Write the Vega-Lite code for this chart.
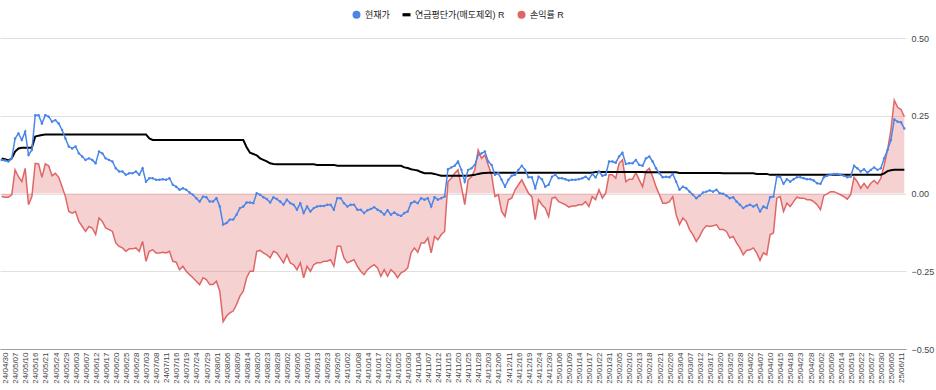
{
"$schema": "https://vega.github.io/schema/vega-lite/v6.json",
"width": 906, "height": 311,
"autosize": {"type": "none"},
"padding": {"left": 0, "top": 38, "right": 30, "bottom": 41},
"background": "white",
"config": {"view": {"stroke": null}, "font": "Liberation Sans, Noto Sans CJK KR, sans-serif"},
"data": {"values": [
{"d":"24/04/30","p":0.108,"a":0.113,"r":-0.010},
{"d":"24/05/02","p":0.106,"a":0.110,"r":-0.012},
{"d":"24/05/03","p":0.103,"a":0.106,"r":-0.012},
{"d":"24/05/07","p":0.113,"a":0.113,"r":-0.004},
{"d":"24/05/08","p":0.177,"a":0.135,"r":0.076},
{"d":"24/05/09","p":0.193,"a":0.145,"r":0.054},
{"d":"24/05/10","p":0.172,"a":0.147,"r":0.038},
{"d":"24/05/13","p":0.199,"a":0.147,"r":0.081},
{"d":"24/05/14","p":0.124,"a":0.147,"r":-0.036},
{"d":"24/05/16","p":0.140,"a":0.147,"r":-0.010},
{"d":"24/05/17","p":0.252,"a":0.183,"r":0.097},
{"d":"24/05/20","p":0.252,"a":0.186,"r":0.095},
{"d":"24/05/21","p":0.225,"a":0.188,"r":0.052},
{"d":"24/05/22","p":0.252,"a":0.190,"r":0.095},
{"d":"24/05/23","p":0.247,"a":0.190,"r":0.089},
{"d":"24/05/24","p":0.231,"a":0.190,"r":0.057},
{"d":"24/05/27","p":0.236,"a":0.190,"r":0.065},
{"d":"24/05/28","p":0.225,"a":0.190,"r":0.052},
{"d":"24/05/29","p":0.204,"a":0.190,"r":0.022},
{"d":"24/05/30","p":0.177,"a":0.190,"r":-0.010},
{"d":"24/05/31","p":0.151,"a":0.190,"r":-0.058},
{"d":"24/06/03","p":0.145,"a":0.190,"r":-0.063},
{"d":"24/06/04","p":0.151,"a":0.190,"r":-0.058},
{"d":"24/06/05","p":0.129,"a":0.190,"r":-0.090},
{"d":"24/06/07","p":0.119,"a":0.190,"r":-0.106},
{"d":"24/06/10","p":0.108,"a":0.190,"r":-0.122},
{"d":"24/06/11","p":0.113,"a":0.190,"r":-0.106},
{"d":"24/06/12","p":0.108,"a":0.190,"r":-0.111},
{"d":"24/06/13","p":0.097,"a":0.190,"r":-0.132},
{"d":"24/06/14","p":0.135,"a":0.190,"r":-0.079},
{"d":"24/06/17","p":0.129,"a":0.190,"r":-0.090},
{"d":"24/06/18","p":0.113,"a":0.190,"r":-0.111},
{"d":"24/06/19","p":0.108,"a":0.190,"r":-0.116},
{"d":"24/06/20","p":0.103,"a":0.190,"r":-0.122},
{"d":"24/06/21","p":0.081,"a":0.190,"r":-0.159},
{"d":"24/06/24","p":0.071,"a":0.190,"r":-0.170},
{"d":"24/06/25","p":0.071,"a":0.190,"r":-0.175},
{"d":"24/06/26","p":0.060,"a":0.190,"r":-0.186},
{"d":"24/06/27","p":0.065,"a":0.190,"r":-0.178},
{"d":"24/06/28","p":0.065,"a":0.190,"r":-0.178},
{"d":"24/07/01","p":0.071,"a":0.190,"r":-0.175},
{"d":"24/07/02","p":0.060,"a":0.190,"r":-0.186},
{"d":"24/07/03","p":0.081,"a":0.190,"r":-0.154},
{"d":"24/07/04","p":0.038,"a":0.190,"r":-0.218},
{"d":"24/07/05","p":0.049,"a":0.177,"r":-0.186},
{"d":"24/07/08","p":0.049,"a":0.172,"r":-0.181},
{"d":"24/07/09","p":0.044,"a":0.172,"r":-0.191},
{"d":"24/07/10","p":0.044,"a":0.172,"r":-0.191},
{"d":"24/07/11","p":0.046,"a":0.172,"r":-0.189},
{"d":"24/07/12","p":0.044,"a":0.172,"r":-0.191},
{"d":"24/07/15","p":0.049,"a":0.172,"r":-0.186},
{"d":"24/07/16","p":0.028,"a":0.172,"r":-0.218},
{"d":"24/07/17","p":0.022,"a":0.172,"r":-0.221},
{"d":"24/07/18","p":0.012,"a":0.172,"r":-0.245},
{"d":"24/07/19","p":0.017,"a":0.172,"r":-0.234},
{"d":"24/07/22","p":0.012,"a":0.172,"r":-0.250},
{"d":"24/07/23","p":0.003,"a":0.172,"r":-0.261},
{"d":"24/07/24","p":-0.004,"a":0.172,"r":-0.271},
{"d":"24/07/25","p":-0.015,"a":0.172,"r":-0.282},
{"d":"24/07/26","p":-0.026,"a":0.172,"r":-0.293},
{"d":"24/07/29","p":-0.010,"a":0.172,"r":-0.271},
{"d":"24/07/30","p":-0.012,"a":0.172,"r":-0.277},
{"d":"24/07/31","p":-0.026,"a":0.172,"r":-0.293},
{"d":"24/08/01","p":-0.026,"a":0.172,"r":-0.293},
{"d":"24/08/02","p":-0.015,"a":0.172,"r":-0.282},
{"d":"24/08/05","p":-0.042,"a":0.172,"r":-0.314},
{"d":"24/08/06","p":-0.100,"a":0.172,"r":-0.412},
{"d":"24/08/07","p":-0.095,"a":0.172,"r":-0.394},
{"d":"24/08/08","p":-0.084,"a":0.172,"r":-0.384},
{"d":"24/08/09","p":-0.084,"a":0.172,"r":-0.378},
{"d":"24/08/12","p":-0.068,"a":0.172,"r":-0.357},
{"d":"24/08/13","p":-0.047,"a":0.172,"r":-0.330},
{"d":"24/08/14","p":-0.042,"a":0.172,"r":-0.314},
{"d":"24/08/16","p":-0.029,"a":0.149,"r":-0.271},
{"d":"24/08/19","p":-0.029,"a":0.131,"r":-0.250},
{"d":"24/08/20","p":-0.031,"a":0.127,"r":-0.250},
{"d":"24/08/21","p":0.001,"a":0.123,"r":-0.186},
{"d":"24/08/22","p":-0.004,"a":0.113,"r":-0.183},
{"d":"24/08/23","p":-0.012,"a":0.108,"r":-0.191},
{"d":"24/08/26","p":-0.018,"a":0.103,"r":-0.197},
{"d":"24/08/27","p":-0.029,"a":0.097,"r":-0.207},
{"d":"24/08/28","p":-0.012,"a":0.095,"r":-0.186},
{"d":"24/08/29","p":-0.018,"a":0.094,"r":-0.191},
{"d":"24/08/30","p":-0.026,"a":0.094,"r":-0.207},
{"d":"24/09/02","p":-0.036,"a":0.094,"r":-0.223},
{"d":"24/09/03","p":-0.020,"a":0.094,"r":-0.197},
{"d":"24/09/04","p":-0.031,"a":0.094,"r":-0.223},
{"d":"24/09/05","p":-0.036,"a":0.094,"r":-0.229},
{"d":"24/09/06","p":-0.052,"a":0.094,"r":-0.245},
{"d":"24/09/09","p":-0.031,"a":0.094,"r":-0.223},
{"d":"24/09/10","p":-0.063,"a":0.094,"r":-0.271},
{"d":"24/09/11","p":-0.042,"a":0.094,"r":-0.234},
{"d":"24/09/12","p":-0.058,"a":0.094,"r":-0.250},
{"d":"24/09/13","p":-0.047,"a":0.094,"r":-0.229},
{"d":"24/09/19","p":-0.042,"a":0.092,"r":-0.223},
{"d":"24/09/20","p":-0.040,"a":0.092,"r":-0.223},
{"d":"24/09/23","p":-0.040,"a":0.092,"r":-0.218},
{"d":"24/09/24","p":-0.036,"a":0.092,"r":-0.218},
{"d":"24/09/25","p":-0.036,"a":0.092,"r":-0.213},
{"d":"24/09/26","p":-0.052,"a":0.092,"r":-0.234},
{"d":"24/09/27","p":-0.015,"a":0.089,"r":-0.170},
{"d":"24/09/30","p":-0.015,"a":0.089,"r":-0.170},
{"d":"24/10/02","p":-0.031,"a":0.089,"r":-0.207},
{"d":"24/10/04","p":-0.042,"a":0.089,"r":-0.223},
{"d":"24/10/07","p":-0.036,"a":0.089,"r":-0.218},
{"d":"24/10/08","p":-0.036,"a":0.089,"r":-0.213},
{"d":"24/10/10","p":-0.052,"a":0.089,"r":-0.234},
{"d":"24/10/11","p":-0.052,"a":0.089,"r":-0.250},
{"d":"24/10/14","p":-0.063,"a":0.089,"r":-0.261},
{"d":"24/10/15","p":-0.054,"a":0.089,"r":-0.245},
{"d":"24/10/16","p":-0.050,"a":0.089,"r":-0.236},
{"d":"24/10/17","p":-0.044,"a":0.089,"r":-0.229},
{"d":"24/10/18","p":-0.052,"a":0.089,"r":-0.239},
{"d":"24/10/21","p":-0.058,"a":0.089,"r":-0.266},
{"d":"24/10/22","p":-0.068,"a":0.089,"r":-0.245},
{"d":"24/10/23","p":-0.054,"a":0.089,"r":-0.266},
{"d":"24/10/24","p":-0.068,"a":0.089,"r":-0.245},
{"d":"24/10/25","p":-0.061,"a":0.089,"r":-0.255},
{"d":"24/10/28","p":-0.068,"a":0.089,"r":-0.271},
{"d":"24/10/29","p":-0.072,"a":0.089,"r":-0.255},
{"d":"24/10/30","p":-0.063,"a":0.084,"r":-0.250},
{"d":"24/10/31","p":-0.058,"a":0.082,"r":-0.239},
{"d":"24/11/01","p":-0.031,"a":0.078,"r":-0.191},
{"d":"24/11/04","p":-0.026,"a":0.076,"r":-0.175},
{"d":"24/11/05","p":-0.031,"a":0.074,"r":-0.189},
{"d":"24/11/06","p":-0.015,"a":0.069,"r":-0.159},
{"d":"24/11/07","p":-0.020,"a":0.065,"r":-0.159},
{"d":"24/11/08","p":-0.015,"a":0.065,"r":-0.143},
{"d":"24/11/11","p":-0.042,"a":0.065,"r":-0.191},
{"d":"24/11/12","p":-0.012,"a":0.063,"r":-0.138},
{"d":"24/11/13","p":-0.020,"a":0.060,"r":-0.149},
{"d":"24/11/14","p":-0.015,"a":0.057,"r":-0.132},
{"d":"24/11/15","p":-0.010,"a":0.057,"r":-0.122},
{"d":"24/11/18","p":0.078,"a":0.057,"r":0.038},
{"d":"24/11/19","p":0.084,"a":0.057,"r":0.049},
{"d":"24/11/20","p":0.089,"a":0.057,"r":0.065},
{"d":"24/11/21","p":0.103,"a":0.057,"r":0.076},
{"d":"24/11/22","p":0.076,"a":0.057,"r":0.022},
{"d":"24/11/25","p":0.038,"a":0.057,"r":-0.036},
{"d":"24/11/26","p":0.076,"a":0.057,"r":0.044},
{"d":"24/11/27","p":0.081,"a":0.059,"r":0.054},
{"d":"24/11/28","p":0.092,"a":0.060,"r":0.076},
{"d":"24/11/29","p":0.124,"a":0.063,"r":0.140},
{"d":"24/12/02","p":0.129,"a":0.065,"r":0.113},
{"d":"24/12/03","p":0.135,"a":0.066,"r":0.124},
{"d":"24/12/04","p":0.103,"a":0.067,"r":0.092},
{"d":"24/12/05","p":0.092,"a":0.067,"r":0.060},
{"d":"24/12/06","p":0.060,"a":0.067,"r":-0.010},
{"d":"24/12/09","p":0.065,"a":0.067,"r":-0.004},
{"d":"24/12/10","p":0.044,"a":0.067,"r":-0.058},
{"d":"24/12/11","p":0.022,"a":0.067,"r":-0.074},
{"d":"24/12/12","p":0.044,"a":0.067,"r":-0.020},
{"d":"24/12/13","p":0.057,"a":0.067,"r":-0.015},
{"d":"24/12/16","p":0.060,"a":0.067,"r":0.012},
{"d":"24/12/17","p":0.076,"a":0.067,"r":0.028},
{"d":"24/12/18","p":0.089,"a":0.067,"r":0.044},
{"d":"24/12/19","p":0.076,"a":0.067,"r":0.022},
{"d":"24/12/20","p":0.052,"a":0.067,"r":0.001},
{"d":"24/12/23","p":0.052,"a":0.067,"r":-0.010},
{"d":"24/12/24","p":0.017,"a":0.067,"r":-0.084},
{"d":"24/12/26","p":0.054,"a":0.067,"r":-0.020},
{"d":"24/12/27","p":0.046,"a":0.067,"r":-0.036},
{"d":"24/12/30","p":0.022,"a":0.067,"r":-0.047},
{"d":"25/01/02","p":0.028,"a":0.067,"r":-0.074},
{"d":"25/01/03","p":0.054,"a":0.067,"r":-0.015},
{"d":"25/01/06","p":0.060,"a":0.067,"r":-0.012},
{"d":"25/01/07","p":0.049,"a":0.067,"r":-0.026},
{"d":"25/01/08","p":0.049,"a":0.067,"r":-0.031},
{"d":"25/01/09","p":0.046,"a":0.067,"r":-0.036},
{"d":"25/01/10","p":0.042,"a":0.067,"r":-0.044},
{"d":"25/01/13","p":0.044,"a":0.067,"r":-0.040},
{"d":"25/01/14","p":0.044,"a":0.067,"r":-0.040},
{"d":"25/01/15","p":0.046,"a":0.067,"r":-0.036},
{"d":"25/01/16","p":0.049,"a":0.067,"r":-0.036},
{"d":"25/01/17","p":0.054,"a":0.067,"r":-0.026},
{"d":"25/01/20","p":0.046,"a":0.067,"r":-0.042},
{"d":"25/01/21","p":0.063,"a":0.067,"r":-0.010},
{"d":"25/01/22","p":0.052,"a":0.069,"r":-0.020},
{"d":"25/01/23","p":0.071,"a":0.069,"r":0.012},
{"d":"25/01/24","p":0.057,"a":0.069,"r":-0.015},
{"d":"25/01/31","p":0.060,"a":0.069,"r":0.001},
{"d":"25/02/03","p":0.103,"a":0.069,"r":0.060},
{"d":"25/02/04","p":0.103,"a":0.069,"r":0.060},
{"d":"25/02/05","p":0.099,"a":0.069,"r":0.049},
{"d":"25/02/06","p":0.119,"a":0.069,"r":0.097},
{"d":"25/02/07","p":0.131,"a":0.069,"r":0.108},
{"d":"25/02/10","p":0.095,"a":0.069,"r":0.038},
{"d":"25/02/11","p":0.097,"a":0.069,"r":0.046},
{"d":"25/02/12","p":0.097,"a":0.069,"r":0.046},
{"d":"25/02/13","p":0.108,"a":0.069,"r":0.067},
{"d":"25/02/14","p":0.092,"a":0.069,"r":0.044},
{"d":"25/02/17","p":0.089,"a":0.069,"r":0.022},
{"d":"25/02/18","p":0.113,"a":0.068,"r":0.071},
{"d":"25/02/19","p":0.119,"a":0.068,"r":0.081},
{"d":"25/02/20","p":0.103,"a":0.068,"r":0.054},
{"d":"25/02/21","p":0.081,"a":0.068,"r":0.022},
{"d":"25/02/24","p":0.065,"a":0.068,"r":-0.004},
{"d":"25/02/25","p":0.052,"a":0.068,"r":-0.031},
{"d":"25/02/26","p":0.054,"a":0.068,"r":-0.031},
{"d":"25/02/27","p":0.052,"a":0.068,"r":-0.026},
{"d":"25/02/28","p":0.063,"a":0.068,"r":-0.010},
{"d":"25/03/04","p":0.038,"a":0.068,"r":-0.068},
{"d":"25/03/05","p":0.012,"a":0.066,"r":-0.100},
{"d":"25/03/06","p":0.022,"a":0.066,"r":-0.079},
{"d":"25/03/07","p":0.017,"a":0.066,"r":-0.090},
{"d":"25/03/10","p":0.006,"a":0.066,"r":-0.116},
{"d":"25/03/11","p":-0.004,"a":0.066,"r":-0.132},
{"d":"25/03/12","p":-0.015,"a":0.066,"r":-0.154},
{"d":"25/03/13","p":-0.007,"a":0.066,"r":-0.138},
{"d":"25/03/14","p":0.003,"a":0.066,"r":-0.116},
{"d":"25/03/17","p":0.006,"a":0.066,"r":-0.104},
{"d":"25/03/18","p":0.010,"a":0.066,"r":-0.106},
{"d":"25/03/19","p":0.006,"a":0.066,"r":-0.104},
{"d":"25/03/20","p":0.012,"a":0.066,"r":-0.100},
{"d":"25/03/21","p":0.001,"a":0.066,"r":-0.116},
{"d":"25/03/24","p":-0.001,"a":0.065,"r":-0.116},
{"d":"25/03/25","p":-0.007,"a":0.065,"r":-0.122},
{"d":"25/03/26","p":-0.015,"a":0.065,"r":-0.143},
{"d":"25/03/27","p":-0.012,"a":0.065,"r":-0.138},
{"d":"25/03/28","p":-0.026,"a":0.065,"r":-0.159},
{"d":"25/03/31","p":-0.036,"a":0.065,"r":-0.175},
{"d":"25/04/01","p":-0.047,"a":0.065,"r":-0.197},
{"d":"25/04/02","p":-0.040,"a":0.065,"r":-0.183},
{"d":"25/04/03","p":-0.036,"a":0.065,"r":-0.181},
{"d":"25/04/04","p":-0.042,"a":0.065,"r":-0.175},
{"d":"25/04/07","p":-0.036,"a":0.063,"r":-0.191},
{"d":"25/04/08","p":-0.058,"a":0.063,"r":-0.215},
{"d":"25/04/09","p":-0.042,"a":0.063,"r":-0.191},
{"d":"25/04/10","p":-0.047,"a":0.063,"r":-0.197},
{"d":"25/04/11","p":-0.012,"a":0.060,"r":-0.132},
{"d":"25/04/14","p":-0.010,"a":0.060,"r":-0.127},
{"d":"25/04/15","p":0.054,"a":0.060,"r":-0.015},
{"d":"25/04/16","p":0.054,"a":0.060,"r":-0.010},
{"d":"25/04/17","p":0.031,"a":0.060,"r":-0.058},
{"d":"25/04/18","p":0.046,"a":0.060,"r":-0.031},
{"d":"25/04/21","p":0.038,"a":0.060,"r":-0.042},
{"d":"25/04/22","p":0.046,"a":0.060,"r":-0.026},
{"d":"25/04/23","p":0.052,"a":0.060,"r":-0.012},
{"d":"25/04/24","p":0.052,"a":0.060,"r":-0.015},
{"d":"25/04/25","p":0.049,"a":0.060,"r":-0.015},
{"d":"25/04/28","p":0.046,"a":0.060,"r":-0.020},
{"d":"25/04/29","p":0.046,"a":0.060,"r":-0.020},
{"d":"25/04/30","p":0.042,"a":0.060,"r":-0.026},
{"d":"25/05/02","p":0.033,"a":0.060,"r":-0.036},
{"d":"25/05/07","p":0.031,"a":0.060,"r":-0.052},
{"d":"25/05/08","p":0.052,"a":0.060,"r":-0.007},
{"d":"25/05/09","p":0.057,"a":0.060,"r":-0.001},
{"d":"25/05/12","p":0.060,"a":0.060,"r":0.006},
{"d":"25/05/13","p":0.063,"a":0.060,"r":0.006},
{"d":"25/05/14","p":0.063,"a":0.060,"r":0.001},
{"d":"25/05/15","p":0.060,"a":0.060,"r":-0.004},
{"d":"25/05/16","p":0.057,"a":0.060,"r":-0.010},
{"d":"25/05/19","p":0.052,"a":0.060,"r":-0.018},
{"d":"25/05/20","p":0.054,"a":0.060,"r":-0.004},
{"d":"25/05/21","p":0.089,"a":0.060,"r":0.052},
{"d":"25/05/22","p":0.081,"a":0.060,"r":0.038},
{"d":"25/05/23","p":0.071,"a":0.060,"r":0.017},
{"d":"25/05/26","p":0.078,"a":0.060,"r":0.033},
{"d":"25/05/27","p":0.067,"a":0.060,"r":0.017},
{"d":"25/05/28","p":0.076,"a":0.060,"r":0.033},
{"d":"25/05/29","p":0.084,"a":0.060,"r":0.042},
{"d":"25/05/30","p":0.076,"a":0.060,"r":0.031},
{"d":"25/06/02","p":0.081,"a":0.060,"r":0.049},
{"d":"25/06/04","p":0.113,"a":0.065,"r":0.092},
{"d":"25/06/05","p":0.140,"a":0.072,"r":0.140},
{"d":"25/06/09","p":0.172,"a":0.075,"r":0.204},
{"d":"25/06/10","p":0.238,"a":0.076,"r":0.300},
{"d":"25/06/11","p":0.231,"a":0.076,"r":0.277},
{"d":"25/06/12","p":0.229,"a":0.076,"r":0.270},
{"d":"25/06/13","p":0.209,"a":0.076,"r":0.247}
]},
"encoding": {
  "x": {"field": "d", "type": "ordinal", "title": null,
    "scale": {"type": "point", "padding": 0.5},
    "axis": {"values": ["24/04/30","24/05/07","24/05/10","24/05/16","24/05/21","24/05/24","24/05/29","24/06/03","24/06/07","24/06/12","24/06/17","24/06/20","24/06/25","24/06/28","24/07/03","24/07/08","24/07/11","24/07/16","24/07/19","24/07/24","24/07/29","24/08/01","24/08/06","24/08/09","24/08/14","24/08/20","24/08/23","24/08/28","24/09/02","24/09/05","24/09/10","24/09/13","24/09/23","24/09/26","24/10/02","24/10/08","24/10/14","24/10/17","24/10/22","24/10/25","24/10/30","24/11/04","24/11/07","24/11/12","24/11/15","24/11/20","24/11/25","24/11/28","24/12/03","24/12/06","24/12/11","24/12/16","24/12/19","24/12/24","24/12/30","25/01/06","25/01/09","25/01/14","25/01/17","25/01/22","25/01/31","25/02/05","25/02/10","25/02/13","25/02/18","25/02/21","25/02/26","25/03/04","25/03/07","25/03/12","25/03/17","25/03/20","25/03/25","25/03/28","25/04/02","25/04/07","25/04/10","25/04/15","25/04/18","25/04/23","25/04/28","25/05/02","25/05/09","25/05/14","25/05/19","25/05/22","25/05/27","25/05/30","25/06/05","25/06/11"],
      "labelAngle": -90, "labelFontSize": 8, "labelColor": "#444444", "ticks": false,
      "domainColor": "#9e9e9e", "labelOverlap": false, "labelPadding": 3, "labelOffset": 4, "grid": false, "labelBound": false}
  }
},
"layer": [
  {"mark": {"type": "area", "color": "#e06666", "opacity": 0.3},
   "encoding": {
     "y": {"field": "r", "type": "quantitative", "title": null,
       "scale": {"domain": [-0.5, 0.5]},
       "axis": {"orient": "right", "values": [-0.5, -0.25, 0, 0.25, 0.5], "format": ".2f", "domain": false, "ticks": false,
         "gridColor": "#e0e0e0", "labelFontSize": 9, "labelColor": "#444444", "labelPadding": 5}},
     "y2": {"datum": 0}}},
  {"mark": {"type": "line", "color": "#e06666", "strokeWidth": 1.5},
   "encoding": {"y": {"field": "r", "type": "quantitative"}}},
  {"mark": {"type": "line", "color": "#000000", "strokeWidth": 2},
   "encoding": {"y": {"field": "a", "type": "quantitative"}}},
  {"mark": {"type": "line", "color": "#4a86e8", "strokeWidth": 1.5},
   "encoding": {"y": {"field": "p", "type": "quantitative"}}},
  {"mark": {"type": "point", "filled": true, "size": 6, "opacity": 1},
   "encoding": {
     "y": {"field": "p", "type": "quantitative"},
     "color": {"datum": "현재가", "type": "nominal",
       "scale": {"domain": ["현재가", "연금평단가(매도제외) R", "손익률 R"], "range": ["#4a86e8", "#000000", "#e06666"]},
       "legend": {"title": null, "orient": "none", "legendX": 352, "legendY": -28, "direction": "horizontal",
         "symbolSize": 64, "labelFontSize": 9, "labelColor": "#222222", "columnPadding": 12, "symbolStrokeWidth": 0, "labelOffset": 4}},
     "shape": {"datum": "현재가", "type": "nominal",
       "scale": {"domain": ["현재가", "연금평단가(매도제외) R", "손익률 R"], "range": ["circle", "M-1,-0.4H1V0.4H-1Z", "circle"]},
       "legend": {"title": null, "orient": "none", "legendX": 352, "legendY": -28, "direction": "horizontal",
         "symbolSize": 64, "labelFontSize": 9, "labelColor": "#222222", "columnPadding": 12, "symbolStrokeWidth": 0, "labelOffset": 4}}}}
]
}
